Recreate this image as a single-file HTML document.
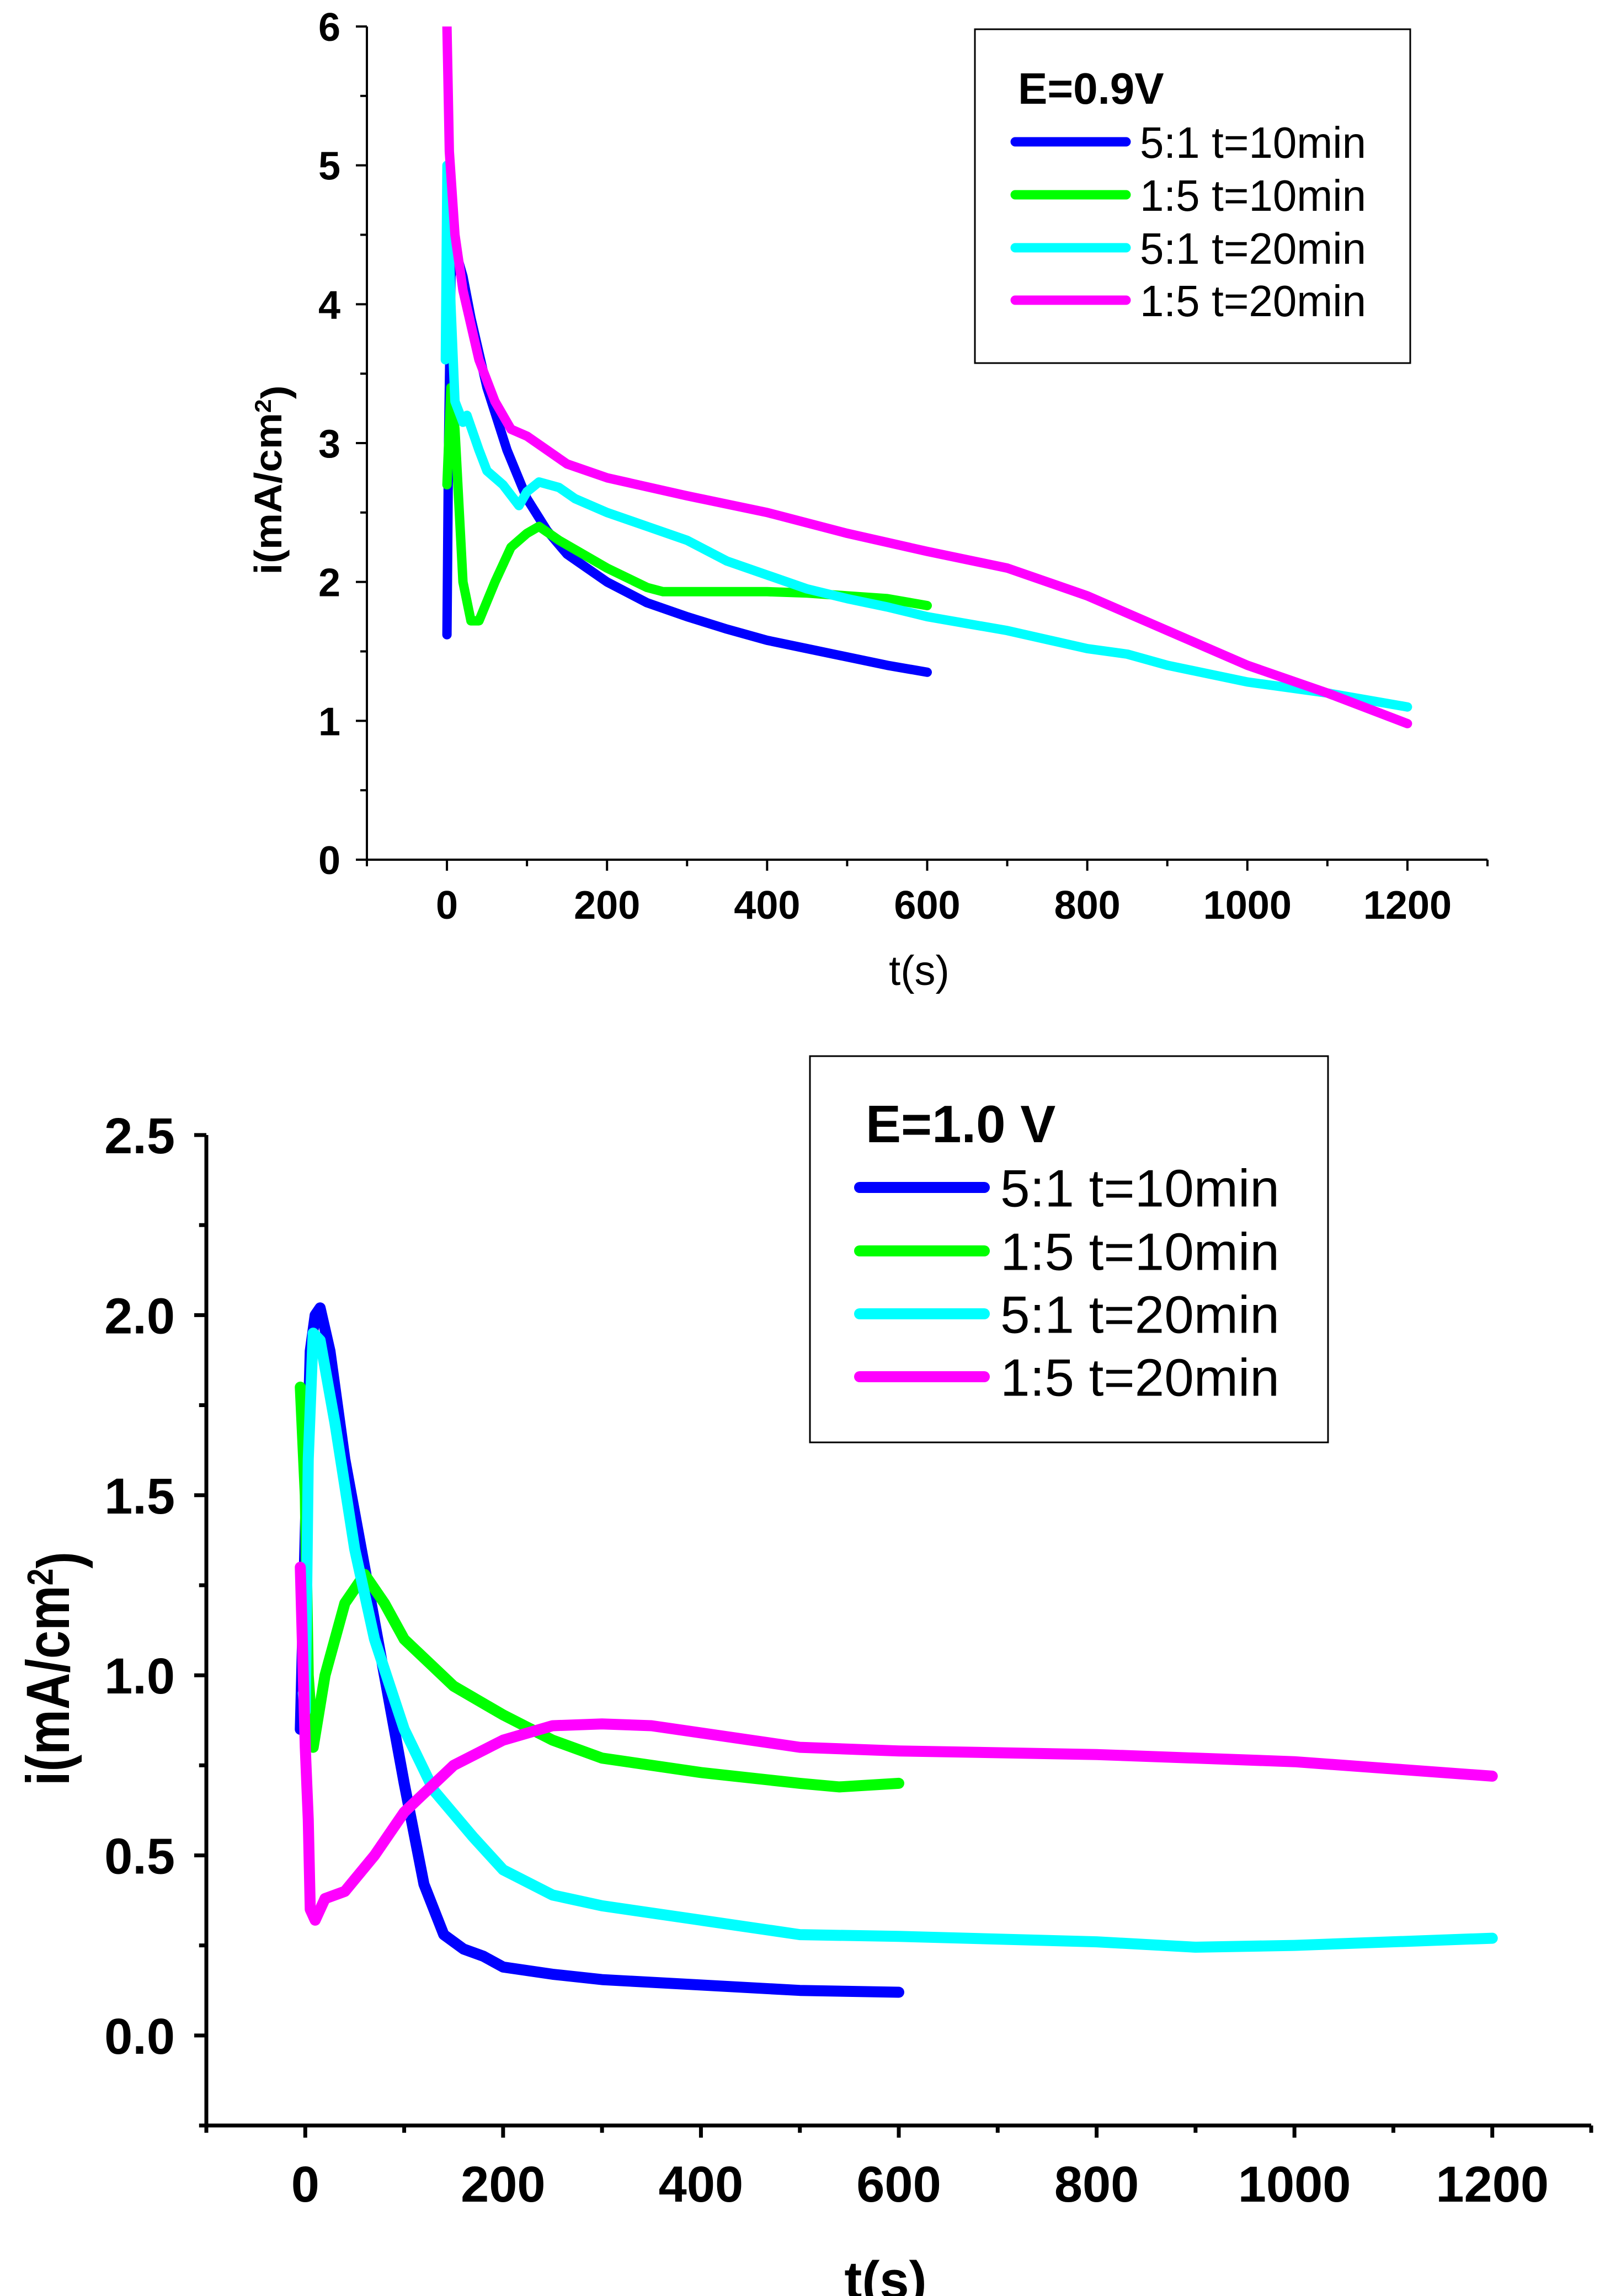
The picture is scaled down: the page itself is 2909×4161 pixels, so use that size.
<!DOCTYPE html>
<html><head><meta charset="utf-8"><style>
html,body{margin:0;padding:0;background:#fff;}
svg{display:block;font-family:"Liberation Sans",Arial,sans-serif;}
</style></head><body>
<svg id="fig" width="2909" height="4161" viewBox="0 0 2909 4161" xmlns="http://www.w3.org/2000/svg">
<rect width="2909" height="4161" fill="#fff"/>
<g id="c1"></g>
<g id="c2"></g>
</svg>
<script>
// ---------- Chart 1 data (E=0.9V) ----------
const c1Names = ["5:1 t=10min","1:5 t=10min","5:1 t=20min","1:5 t=20min"];
const c1BlueT = [0,2,5,10,20,30,50,75,100,125,150,200,250,300,350,400,450,500,550,600];
const c1BlueI = [1.62,3.0,4.2,4.4,4.2,3.9,3.4,2.95,2.6,2.37,2.2,2.0,1.85,1.75,1.66,1.58,1.52,1.46,1.4,1.35];
const c1GreenT = [0,5,10,20,30,40,60,80,100,115,140,170,200,250,270,350,400,450,500,550,600];
const c1GreenI = [2.7,3.4,3.1,2.0,1.72,1.72,2.0,2.25,2.35,2.4,2.3,2.2,2.1,1.96,1.93,1.93,1.93,1.92,1.9,1.88,1.83];
const c1CyanT = [-2,0,5,10,20,25,40,50,70,90,100,115,140,160,200,250,300,350,400,450,500,550,600,700,800,850,900,950,1000,1100,1200];
const c1CyanI = [3.6,5.0,4.0,3.3,3.15,3.2,2.95,2.8,2.7,2.55,2.65,2.72,2.68,2.6,2.5,2.4,2.3,2.15,2.05,1.95,1.88,1.82,1.75,1.65,1.52,1.48,1.4,1.34,1.28,1.2,1.1];
const c1MagT = [0,3,10,20,40,60,80,100,150,200,300,400,500,600,700,800,900,1000,1100,1200];
const c1MagI = [6.0,5.1,4.5,4.1,3.6,3.3,3.1,3.05,2.85,2.75,2.62,2.5,2.35,2.22,2.1,1.9,1.65,1.4,1.2,0.98];
const c1XTicks = ["0","200","400","600","800","1000","1200"];
const c1YTicks = ["0","1","2","3","4","5","6"];

// ---------- Chart 2 data (E=1.0 V) ----------
const c2Names = ["5:1 t=10min","1:5 t=10min","5:1 t=20min","1:5 t=20min"];
const c2BlueT = [-5,0,5,10,15,25,40,60,80,100,120,140,160,180,200,250,300,400,500,600];
const c2BlueI = [0.85,1.4,1.9,2.0,2.02,1.9,1.6,1.3,1.0,0.7,0.42,0.28,0.24,0.22,0.19,0.17,0.155,0.14,0.125,0.12];
const c2GreenT = [-5,0,3,8,20,40,60,80,100,150,200,250,300,400,500,540,600];
const c2GreenI = [1.8,1.5,1.0,0.8,1.0,1.2,1.28,1.2,1.1,0.97,0.89,0.82,0.77,0.73,0.7,0.69,0.7];
const c2CyanT = [-2,0,3,8,15,30,50,70,100,130,170,200,250,300,400,500,600,800,900,1000,1200];
const c2CyanI = [0.95,0.9,1.6,1.95,1.93,1.7,1.35,1.1,0.85,0.68,0.55,0.46,0.39,0.36,0.32,0.28,0.275,0.26,0.245,0.25,0.27];
const c2MagT = [-5,0,3,5,10,20,40,70,100,150,200,250,300,350,400,500,600,800,1000,1100,1200];
const c2MagI = [1.3,0.8,0.6,0.35,0.32,0.38,0.4,0.5,0.62,0.75,0.82,0.86,0.865,0.86,0.84,0.8,0.79,0.78,0.76,0.74,0.72];
const c2XTicks = ["0","200","400","600","800","1000","1200"];
const c2YTicks = ["0.0","0.5","1.0","1.5","2.0","2.5"];

const NS="http://www.w3.org/2000/svg";
function mk(parent,tag,attrs){const e=document.createElementNS(NS,tag);for(const k in attrs)e.setAttribute(k,attrs[k]);parent.appendChild(e);return e;}
const colors=["#0000ff","#00ff00","#00ffff","#ff00ff"];

function draw(g,cfg,series,names,xt,yt){
  const sx=v=>cfg.x0+(v-cfg.xmin)/(cfg.xmax-cfg.xmin)*(cfg.x1-cfg.x0);
  const sy=v=>cfg.yb-(v-cfg.ymin)/(cfg.ymax-cfg.ymin)*(cfg.yb-cfg.yt);
  const clipId=g.id+"clip";
  const cp=mk(g,"clipPath",{id:clipId});
  mk(cp,"rect",{x:cfg.x0,y:cfg.yt,width:cfg.x1-cfg.x0,height:cfg.yb-cfg.yt});
  series.forEach((s,i)=>{
    const d=s[0].map((t,j)=>(j?"L":"M")+sx(t).toFixed(1)+","+sy(s[1][j]).toFixed(1)).join("");
    const p=mk(g,"path",{d:d,fill:"none",stroke:colors[i],"stroke-width":cfg.lw,"stroke-linejoin":"round","stroke-linecap":"round","clip-path":"url(#"+clipId+")"});
    
    
  });
  const ax=mk(g,"path",{d:`M${cfg.x0},${cfg.yt}L${cfg.x0},${cfg.yb}L${cfg.x1},${cfg.yb}`,fill:"none",stroke:"#000","stroke-width":cfg.aw});
  
  
  for(let v=cfg.xmin;v<=cfg.xmax+1e-6;v+=cfg.xminor){
    const major=Math.abs(v/cfg.xmajor-Math.round(v/cfg.xmajor))<1e-6;
    mk(g,"line",{x1:sx(v),x2:sx(v),y1:cfg.yb,y2:cfg.yb+(major?cfg.tl:cfg.tl*0.6),stroke:"#000","stroke-width":cfg.aw});
  }
  xt.forEach(lbl=>{
    const t=mk(g,"text",{x:sx(+lbl),y:cfg.xlabY,"text-anchor":"middle","font-size":cfg.fs,"font-weight":"bold"});
    t.textContent=lbl;
    
    
  });
  for(let v=cfg.ymin;v<=cfg.ymax+1e-6;v+=cfg.yminor){
    const r=Math.round(v*1000)/1000;
    const major=Math.abs(r/cfg.ymajor-Math.round(r/cfg.ymajor))<1e-6;
    mk(g,"line",{x1:cfg.x0-(major?cfg.tl:cfg.tl*0.6),x2:cfg.x0,y1:sy(r),y2:sy(r),stroke:"#000","stroke-width":cfg.aw});
  }
  yt.forEach(lbl=>{
    const t=mk(g,"text",{x:cfg.ylabX,y:sy(+lbl)+cfg.fs*0.36,"text-anchor":"end","font-size":cfg.fs,"font-weight":"bold"});
    t.textContent=lbl;
    
    
  });
  const xtl=mk(g,"text",{x:cfg.xtX,y:cfg.xtY,"text-anchor":"middle","font-size":cfg.xtFs,"font-weight":cfg.xtW});
  xtl.textContent="t(s)";
  
  
  const ytl=mk(g,"text",{x:0,y:0,"text-anchor":"middle","font-size":cfg.ytFs,"font-weight":"bold",textLength:cfg.ytLen,lengthAdjust:"spacingAndGlyphs",transform:`translate(${cfg.ytX},${cfg.ytY}) rotate(-90)`});
  ytl.innerHTML='i(mA/cm<tspan dy="-0.45em" font-size="0.6em">2</tspan><tspan dy="0.45em">)</tspan>';
  
  
  const L=cfg.leg;
  const box=mk(g,"rect",{x:L.x,y:L.y,width:L.w,height:L.h,fill:"#fff",stroke:"#000","stroke-width":3});
  
  
  const tt=mk(g,"text",{x:L.tx,y:L.titleY,"font-size":L.fs,"font-weight":"bold"});
  tt.textContent=L.title;
  
  
  names.forEach((n,i)=>{
    const y=L.rows[i];
    const ln=mk(g,"line",{x1:L.lx0,x2:L.lx1,y1:y,y2:y,stroke:colors[i],"stroke-width":cfg.lw,"stroke-linecap":"round"});
    
    
    const t=mk(g,"text",{x:L.textX,y:y+L.fs*0.36,"font-size":L.fs,textLength:L.textLen,lengthAdjust:"spacingAndGlyphs"});
    t.textContent=n;
    
    
  });
}

draw(document.getElementById("c1"),{
  x0:665,x1:2696,yt:48,yb:1558,xmin:-100,xmax:1300,ymin:0,ymax:6,
  xmajor:200,xminor:100,ymajor:1,yminor:0.5,lw:17,aw:4,tl:20,fs:72,
  xlabY:1665,ylabX:617,xtX:1666,xtY:1785,xtFs:76,xtW:"normal",
  ytX:510,ytY:870,ytFs:70,ytLen:343,
  leg:{x:1767,y:53,w:789,h:605,title:"E=0.9V",tx:1845,titleY:188,fs:80,rows:[257,353,449,544],lx0:1840,lx1:2041,textX:2066,textLen:410}
},[[c1BlueT,c1BlueI],[c1GreenT,c1GreenI],[c1CyanT,c1CyanI],[c1MagT,c1MagI]],c1Names,c1XTicks,c1YTicks);

draw(document.getElementById("c2"),{
  x0:374,x1:2884,yt:2057,yb:3852,xmin:-100,xmax:1300,ymin:-0.25,ymax:2.5,
  xmajor:200,xminor:100,ymajor:0.5,yminor:0.25,lw:20,aw:7,tl:22,fs:92,
  xlabY:3990,ylabX:317,xtX:1605,xtY:4165,xtFs:96,xtW:"bold",
  ytX:125,ytY:3024,ytFs:110,ytLen:424,
  leg:{x:1468,y:1914,w:939,h:700,title:"E=1.0 V",tx:1569,titleY:2070,fs:96,rows:[2152,2267,2381,2495],lx0:1558,lx1:1784,textX:1813,textLen:506}
},[[c2BlueT,c2BlueI],[c2GreenT,c2GreenI],[c2CyanT,c2CyanI],[c2MagT,c2MagI]],c2Names,c2XTicks,c2YTicks);
</script>
</body></html>
